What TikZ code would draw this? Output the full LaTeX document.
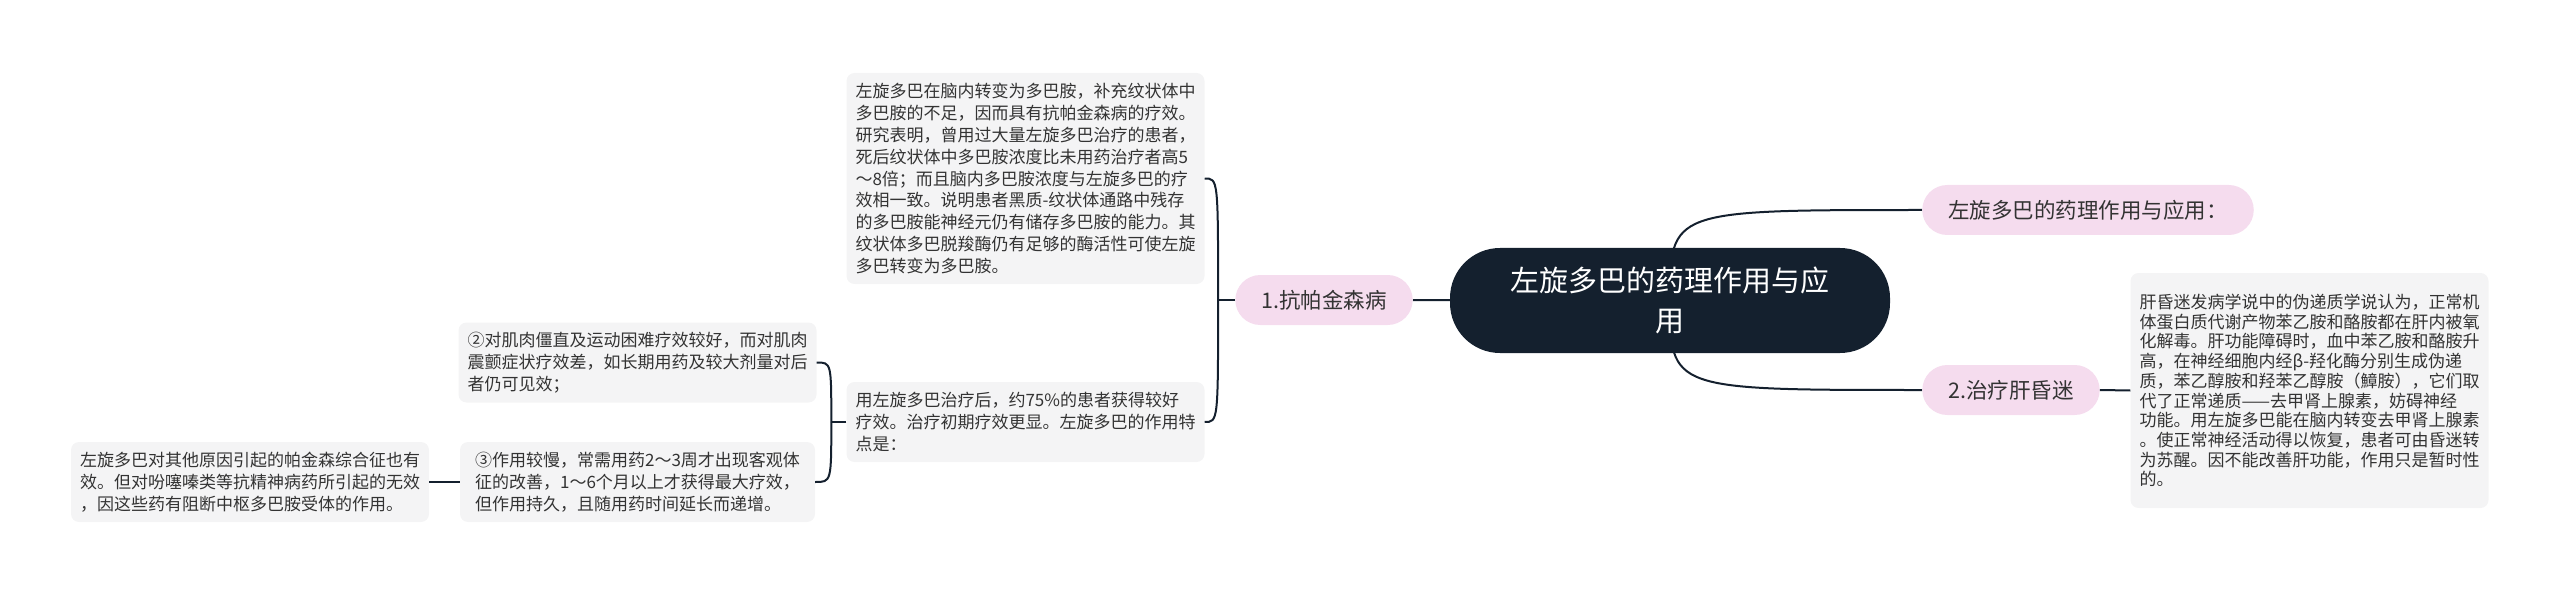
\documentclass[tikz,border=0pt]{standalone}
\usepackage{fontspec}
\setmainfont{Noto Sans CJK SC}
\usetikzlibrary{backgrounds}
\definecolor{navy}{HTML}{14202E}
\definecolor{pinkfill}{HTML}{F5DCEE}
\definecolor{leafgray}{HTML}{F4F4F5}
\definecolor{txt}{HTML}{333333}
\tikzstyle{root}=[fill=navy,text=white,rounded corners=50pt,minimum width=440pt,minimum height=105pt,align=center,font=\fontsize{29}{40}\selectfont]
\tikzstyle{br}=[fill=pinkfill,text=txt,rounded corners=25pt,minimum height=50pt,inner xsep=26pt,font=\fontsize{21.5}{26}\selectfont]
\tikzstyle{lf}=[fill=leafgray,text=txt,rounded corners=8pt,minimum width=355pt,minimum height=80pt,inner xsep=9pt,inner ysep=9pt,align=left,font=\fontsize{17}{21.8}\selectfont]
\tikzstyle{ln}=[draw=navy,line width=2pt]

\begin{document}
\begin{tikzpicture}[x=1pt,y=1pt]
\useasboundingbox (0,0) rectangle (2560,-596);
\node[root] (c) at (1670,-300.5) {左旋多巴的药理作用与应\\用};
\node[br] (b1) at (1324,-300) {1.抗帕金森病};
\node[br] (b2) at (2088,-210) {左旋多巴的药理作用与应用：};
\node[br] (b3) at (2011,-390) {2.治疗肝昏迷};
\node[lf,minimum height=211pt] (l1) at (1025.5,-178.5) {左旋多巴在脑内转变为多巴胺，补充纹状体中\\多巴胺的不足，因而具有抗帕金森病的疗效。\\研究表明，曾用过大量左旋多巴治疗的患者，\\死后纹状体中多巴胺浓度比未用药治疗者高5\\～8倍；而且脑内多巴胺浓度与左旋多巴的疗\\效相一致。说明患者黑质-纹状体通路中残存\\的多巴胺能神经元仍有储存多巴胺的能力。其\\纹状体多巴脱羧酶仍有足够的酶活性可使左旋\\多巴转变为多巴胺。};
\node[lf] (l2) at (1025.5,-422) {用左旋多巴治疗后，约75\%的患者获得较好\\疗效。治疗初期疗效更显。左旋多巴的作用特\\点是：};
\node[lf] (l3) at (637.5,-362.5) {②对肌肉僵直及运动困难疗效较好，而对肌肉\\震颤症状疗效差，如长期用药及较大剂量对后\\者仍可见效；};
\node[lf] (l4) at (637.5,-482) {③作用较慢，常需用药2～3周才出现客观体\\征的改善，1～6个月以上才获得最大疗效，\\但作用持久，且随用药时间延长而递增。};
\node[lf] (l5) at (250,-482) {左旋多巴对其他原因引起的帕金森综合征也有\\效。但对吩噻嗪类等抗精神病药所引起的无效\\，因这些药有阻断中枢多巴胺受体的作用。};
\node[lf,minimum height=235pt,font=\fontsize{17}{19.7}\selectfont] (l6) at (2309.5,-390.5) {肝昏迷发病学说中的伪递质学说认为，正常机\\体蛋白质代谢产物苯乙胺和酪胺都在肝内被氧\\化解毒。肝功能障碍时，血中苯乙胺和酪胺升\\高，在神经细胞内经β-羟化酶分别生成伪递\\质，苯乙醇胺和羟苯乙醇胺（鱆胺），它们取\\代了正常递质——去甲肾上腺素，妨碍神经\\功能。用左旋多巴能在脑内转变去甲肾上腺素\\。使正常神经活动得以恢复，患者可由昏迷转\\为苏醒。因不能改善肝功能，作用只是暂时性\\的。};
\coordinate (j1) at ([xshift=-17pt]b1.west);
\coordinate (j2) at ([xshift=-15pt]l2.west);
\begin{scope}[on background layer]
\draw[ln] (c.center) -- (b1.east);
\draw[ln] (c.center) .. controls (c.center |- b2.west) .. (b2.west);
\draw[ln] (c.center) .. controls (c.center |- b3.west) .. (b3.west);
\end{scope}
\draw[ln] (b1.west) -- (j1);
\draw[ln] (j1) .. controls (j1 |- l1.east) .. (l1.east);
\draw[ln] (j1) .. controls (j1 |- l2.east) .. (l2.east);
\draw[ln] (l2.west) -- (j2);
\draw[ln] (j2) .. controls (j2 |- l3.east) .. (l3.east);
\draw[ln] (j2) .. controls (j2 |- l4.east) .. (l4.east);
\draw[ln] (l4.west) -- (l5.east);
\draw[ln] (b3.east) -- (l6.west);
\end{tikzpicture}
\end{document}
